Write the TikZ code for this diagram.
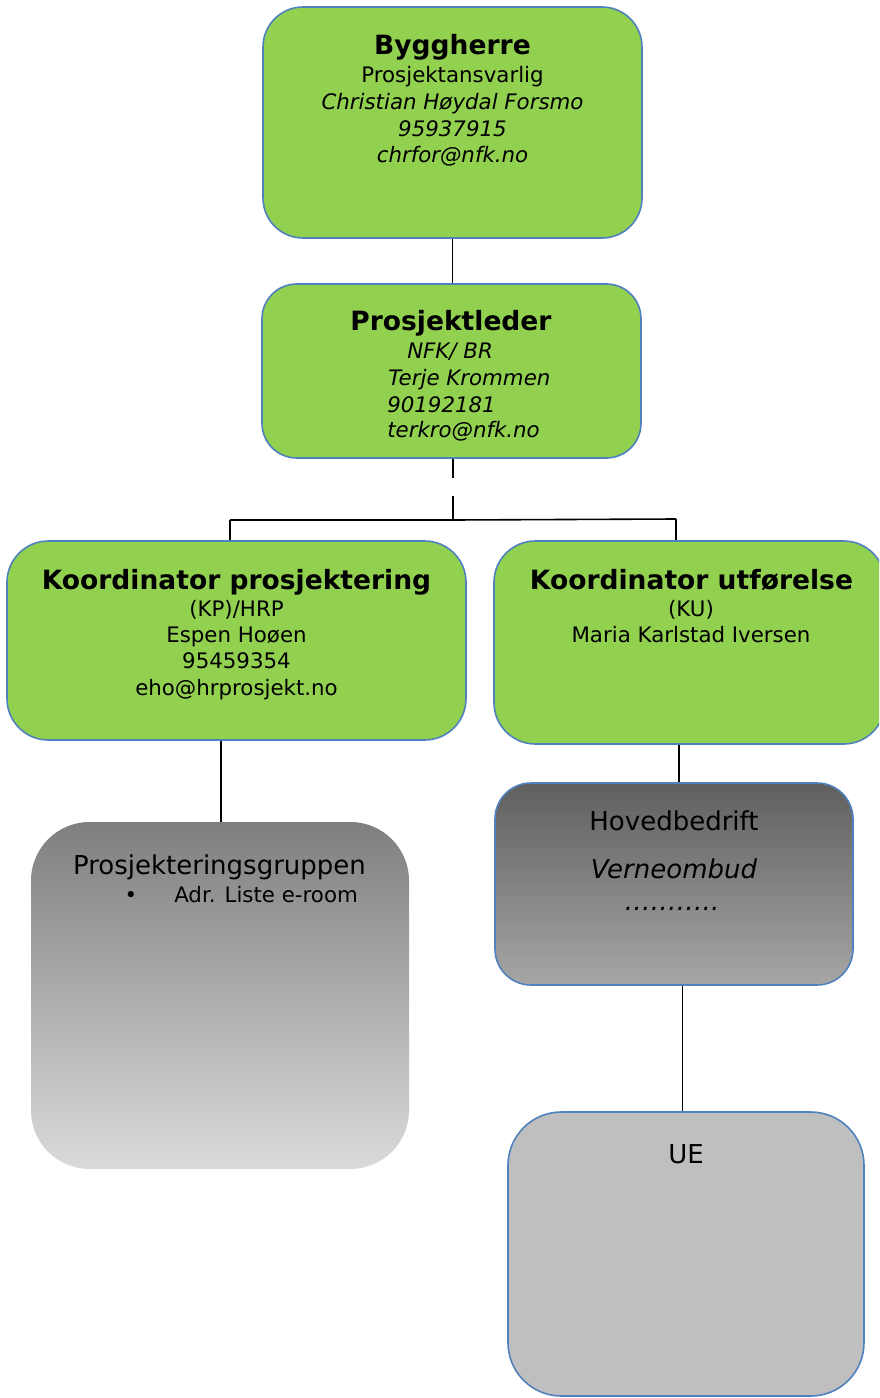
\documentclass[tikz,border=0pt]{standalone}
\usepackage{fontspec}
\setmainfont{DejaVu Sans}
\definecolor{boxgreen}{HTML}{92D050}
\definecolor{bordblue}{HTML}{4F81BD}
\definecolor{gA}{HTML}{7F7F7F}
\definecolor{gB}{HTML}{DADADA}
\definecolor{gC}{HTML}{5F5F5F}
\definecolor{gD}{HTML}{A6A6A6}
\definecolor{gE}{HTML}{BFBFBF}
\newcommand\fsmall{\fontsize{16}{19}\selectfont}
\newcommand\fbig{\fontsize{19.5}{23}\selectfont}
\newcommand\ftitle{\fontsize{19.9}{23}\selectfont}
\begin{document}
\begin{tikzpicture}[x=0.75pt,y=-0.75pt,
  box/.style={rounded corners=#1, inner sep=0pt, draw=bordblue, line width=1.2pt},
  greenbox/.style={box=#1, fill=boxgreen},
  txt/.style={inner sep=0pt, anchor=base, font=\fsmall},
  txtl/.style={inner sep=0pt, anchor=base west, font=\fsmall\itshape},
  title/.style={inner sep=0pt, anchor=base, font=\ftitle\bfseries},
  bigtxt/.style={inner sep=0pt, anchor=base, font=\fbig},
  conn/.style={draw=black, line width=1.2pt}]
\useasboundingbox (0,0) rectangle (879,1398);
\clip (0,0) rectangle (879,1398);

% boxes
\node[greenbox=30pt, minimum width=379*0.75pt, minimum height=231*0.75pt] (bygg) at (452.5,122.5) {};
\node[greenbox=26pt, minimum width=379*0.75pt, minimum height=174*0.75pt] (pl) at (451.5,371) {};
\node[greenbox=31pt, minimum width=459*0.75pt, minimum height=199*0.75pt] (kp) at (236.5,640.5) {};
\node[greenbox=31pt, minimum width=391*0.75pt, minimum height=203*0.75pt] (ku) at (689.5,642.5) {};
\node[rounded corners=44pt, inner sep=0pt, top color=gA, bottom color=gB, minimum width=378*0.75pt, minimum height=347*0.75pt] (pg) at (220,995.5) {};
\node[box=27pt, top color=gC, bottom color=gD, minimum width=358*0.75pt, minimum height=202*0.75pt] (hb) at (674,884) {};
\node[box=40pt, fill=gE, minimum width=356*0.75pt, minimum height=284*0.75pt] (ue) at (686,1254) {};

% connectors
\coordinate (jL) at (230,520);
\coordinate (jM) at (453,520);
\coordinate (jR) at (676,519);
\coordinate (g1) at (453,478);
\coordinate (g2) at (453,496);
\draw[conn] (bygg.south) -- (pl.north -| bygg.south);
\draw[conn] (pl.south -| jM) -- (g1);
\draw[conn] (g2) -- (jM);
\draw[conn] (jL) -- (jM) -- (jR);
\draw[conn] (jL) -- (jL |- kp.north);
\draw[conn] (jR) -- (jR |- ku.north);
\draw[conn] ([xshift=0.75pt]pg.north |- kp.south) -- ([xshift=0.75pt]pg.north);
\draw[conn] ([xshift=3.75pt]hb.north |- ku.south) -- ([xshift=3.75pt]hb.north);
\draw[conn] ([xshift=-2.6pt]ue.north |- hb.south) -- ([xshift=-2.6pt]ue.north);

% Byggherre texts
\node[title] (t1) at (452.5,55) {Byggherre};
\node[txt] (t2) at (452.5,83) {Prosjektansvarlig};
\node[txt, font=\fsmall\itshape] (t3) at (452.5,110) {Christian Høydal Forsmo};
\node[txt, font=\fsmall\itshape] (t4) at (452.5,137) {95937915};
\node[txt, font=\fsmall\itshape] (t5) at (452.5,163) {chrfor@nfk.no};

% Prosjektleder texts
\node[title] (p1) at (451,330) {Prosjektleder};
\node[txtl] (p2) at (407,358) {NFK/ BR};
\node[txtl] (p3) at (388,385) {Terje Krommen};
\node[txtl] (p4) at (387,412) {90192181};
\node[txtl] (p5) at (387,437) {terkro@nfk.no};

% Koordinator prosjektering
\node[title] (k1) at (236.5,589) {Koordinator prosjektering};
\node[txt] (k2) at (236.5,616) {(KP)/HRP};
\node[txt] (k3) at (236.5,642) {Espen Hoøen};
\node[txt] (k4) at (236.5,668) {95459354};
\node[txt] (k5) at (236.5,695) {eho@hrprosjekt.no};

% Koordinator utførelse
\node[title] (u1) at (691.5,589) {Koordinator utførelse};
\node[txt] (u2) at (691,616) {(KU)};
\node[txt] (u3) at (691,642) {Maria Karlstad Iversen};

% Prosjekteringsgruppen
\node[bigtxt] (g0) at (219.5,874) {Prosjekteringsgruppen};
\node[txt] (gb) at (131,902) {•};
\node[inner sep=0pt, anchor=base west, font=\fsmall] (gl) at (174,902) {Adr. Liste e-room};

% Hovedbedrift
\node[bigtxt] (h1) at (674,830) {Hovedbedrift};
\node[bigtxt, font=\fbig\itshape] (h2) at (674,878) {Verneombud};
\node[bigtxt, font=\fbig\itshape] (h3) at (672,910) {………..};

% UE
\node[bigtxt] (e1) at (686,1163) {UE};
\end{tikzpicture}
\end{document}
